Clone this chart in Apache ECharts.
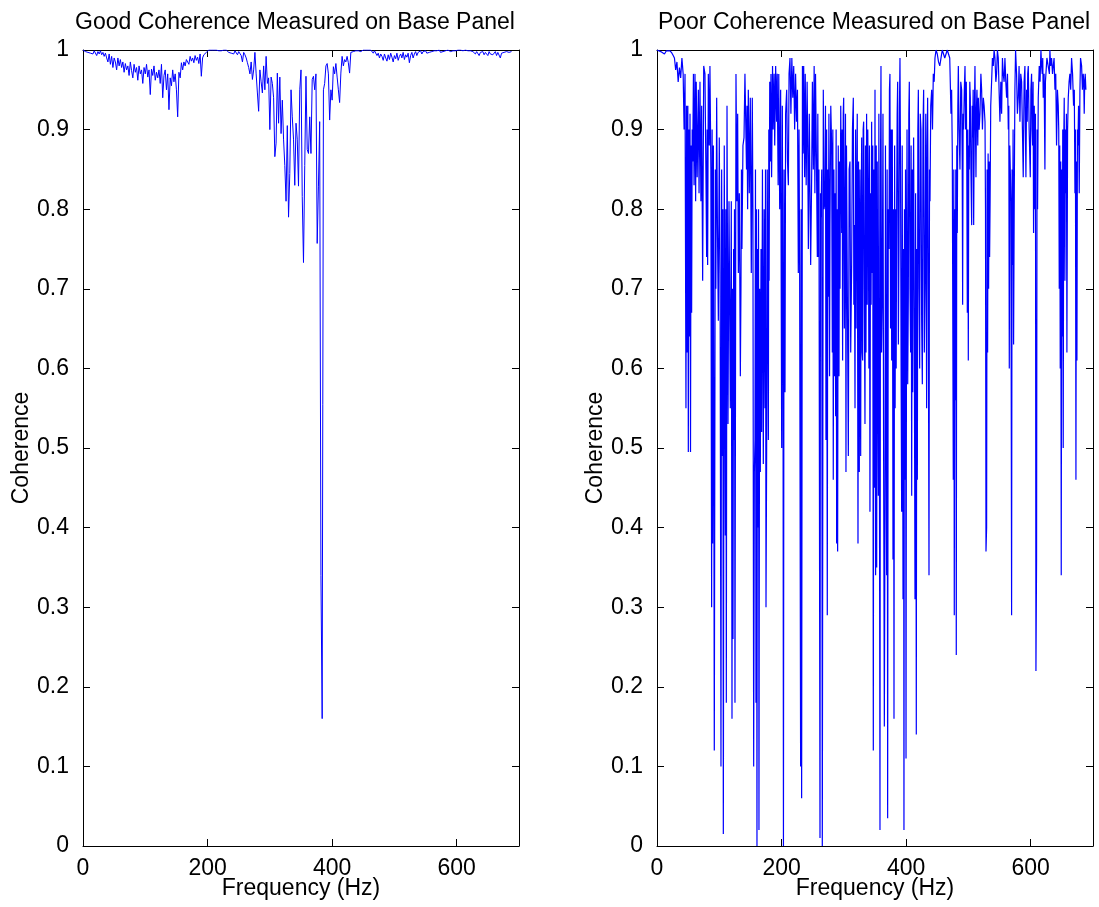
<!DOCTYPE html>
<html><head><meta charset="utf-8">
<script src="https://cdn.jsdelivr.net/npm/echarts@6/dist/echarts.min.js"></script>
<style>html,body{margin:0;padding:0;background:#fff}#chart{width:1099px;height:907px}</style>
</head><body><div id="chart"></div>
<script>
const panelTitles = ['Good Coherence Measured on Base Panel', 'Poor Coherence Measured on Base Panel'];
const xAxisName = 'Frequency (Hz)';
const yAxisName = 'Coherence';
const xTicks = [0, 200, 400, 600];
const yTicks = [0, 0.1, 0.2, 0.3, 0.4, 0.5, 0.6, 0.7, 0.8, 0.9, 1];

// Good coherence: frequency (Hz) and coherence
const goodFreq = [
0,2,4,6,8,10,12,14,16,18,20,22,24,26,28,30,32,34,36,38,
40,42,44,46,48,50,52,54,56,58,60,62,64,66,68,70,72,74,76,78,
80,82,84,86,88,90,92,94,96,98,100,102,104,106,108,110,112,114,116,118,
120,122,124,126,128,130,132,134,136,138,140,142,144,146,148,150,152,154,156,158,
160,162,164,166,168,170,172,174,176,178,180,182,184,186,188,190,192,194,196,198,
200,202,204,206,208,210,212,214,216,218,220,222,224,226,228,230,232,234,236,238,
240,242,244,246,248,250,252,254,256,258,260,262,264,266,268,270,272,274,276,278,
280,282,284,286,288,290,292,294,296,298,300,302,304,306,308,310,312,314,316,318,
320,322,324,326,328,330,332,334,336,338,340,342,344,346,348,350,352,354,356,358,
360,362,364,366,368,370,372,374,376,378,380,382,384,386,388,390,392,394,396,398,
400,402,404,406,408,410,412,414,416,418,420,422,424,426,428,430,432,434,436,438,
440,442,444,446,448,450,452,454,456,458,460,462,464,466,468,470,472,474,476,478,
480,482,484,486,488,490,492,494,496,498,500,502,504,506,508,510,512,514,516,518,
520,522,524,526,528,530,532,534,536,538,540,542,544,546,548,550,552,554,556,558,
560,562,564,566,568,570,572,574,576,578,580,582,584,586,588,590,592,594,596,598,
600,602,604,606,608,610,612,614,616,618,620,622,624,626,628,630,632,634,636,638,
640,642,644,646,648,650,652,654,656,658,660,662,664,666,668,670,672,674,676,678,
680,682,684,686,688];
const goodCoh = [
1.000,0.999,0.998,1.000,0.997,0.999,0.996,0.998,0.995,0.999,
0.997,0.993,0.998,0.995,0.999,0.994,0.997,0.992,0.996,0.990,
0.985,0.995,0.982,0.992,0.978,0.990,0.985,0.975,0.990,0.980,
0.988,0.978,0.985,0.972,0.983,0.975,0.980,0.968,0.985,0.974,
0.965,0.982,0.972,0.978,0.962,0.980,0.970,0.975,0.958,0.978,
0.970,0.982,0.966,0.975,0.944,0.976,0.968,0.980,0.962,0.972,
0.965,0.975,0.958,0.982,0.940,0.968,0.975,0.950,0.970,0.925,
0.965,0.955,0.975,0.960,0.970,0.950,0.916,0.972,0.965,0.984,
0.975,0.985,0.980,0.988,0.990,0.982,0.992,0.986,0.990,0.984,
0.993,0.987,0.991,0.983,0.995,0.967,0.990,0.994,0.992,0.997,
0.998,1.000,0.999,1.000,0.998,1.000,0.999,1.000,1.000,0.999,
1.000,0.999,1.000,1.000,0.998,1.000,0.999,0.997,0.999,0.996,
0.998,0.995,0.999,0.997,0.994,0.998,0.996,0.993,0.985,0.997,
0.994,0.990,0.984,0.978,0.970,0.985,0.963,0.975,0.997,0.970,
0.946,0.923,0.975,0.960,0.946,0.980,0.950,0.992,0.958,0.965,
0.900,0.966,0.958,0.940,0.866,0.883,0.971,0.908,0.966,0.895,
0.937,0.888,0.855,0.810,0.905,0.790,0.845,0.950,0.916,0.888,
0.830,0.908,0.888,0.829,0.950,0.975,0.816,0.733,0.855,0.967,
0.875,0.870,0.916,0.870,0.963,0.967,0.950,0.970,0.757,0.829,
0.910,0.340,0.160,0.950,0.958,0.980,0.983,0.970,0.912,0.950,
0.937,0.979,0.970,0.983,0.966,0.950,0.934,0.971,0.992,0.980,
0.988,0.985,0.992,0.984,0.971,0.997,0.995,0.998,0.997,0.999,
1.000,0.999,1.000,0.998,1.000,1.000,0.999,1.000,0.998,1.000,
0.999,1.000,0.998,0.996,0.999,0.997,0.993,0.996,0.990,0.995,
0.992,0.987,0.995,0.990,0.986,0.994,0.988,0.996,0.991,0.985,
0.993,0.989,0.996,0.987,0.992,0.995,0.990,0.997,0.988,0.994,
0.991,0.996,0.984,0.993,0.997,0.990,0.995,0.998,0.993,0.997,
0.996,0.999,0.995,0.998,0.997,0.999,0.996,0.998,0.997,0.999,
0.998,0.996,0.999,0.997,0.999,0.998,1.000,0.997,0.999,0.998,
1.000,0.999,0.998,1.000,0.999,0.998,1.000,0.999,1.000,0.999,
1.000,1.000,0.999,1.000,1.000,0.999,1.000,1.000,1.000,0.999,
1.000,0.999,1.000,0.998,0.997,0.995,0.998,0.996,0.993,0.997,
0.995,0.998,0.994,0.997,0.996,0.993,0.998,0.995,0.997,0.994,
0.996,0.998,0.993,0.997,0.995,0.990,0.996,0.998,0.997,0.999,
0.998,0.999,0.997,0.999,0.998];

// Poor coherence: [frequency (Hz), coherence] samples
const poorSamples = [
[0,1.0],[3,0.999],[6,0.998],[9,0.999],[12,0.995],[15,0.999],[18,0.997],[21,0.999],[24,0.996],[26,0.993],
[28,0.99],[30,0.975],[32,0.985],[34,0.96],[36,0.978],[38,0.965],[40,0.99],[42,0.97],[43.5,0.9],[45,0.97],
[46.5,0.55],[47.5,0.93],[48.5,0.62],[49.5,0.93],[50.3,0.495],[51.2,0.9],[52.2,0.64],[53,0.92],[53.8,0.495],[54.7,0.88],
[55.6,0.67],[56.5,0.9],[57.3,0.86],[58.5,0.97],[59.5,0.83],[61,0.97],[62,0.81],[63,0.96],[64.5,0.84],[66.4,0.95],
[67.5,0.82],[69,0.96],[70.5,0.81],[71.7,0.93],[73.3,0.71],[75,0.98],[77,0.97],[78.5,0.85],[79.7,0.74],[80.5,0.9],
[81.3,0.73],[82.4,0.97],[84,0.88],[85,0.98],[86.5,0.85],[87.7,0.3],[88.5,0.9],[89.3,0.38],[90.5,0.88],[92,0.12],
[93.6,0.85],[94.5,0.7],[95.8,0.94],[97,0.78],[98.5,0.66],[100,0.89],[101.3,0.72],[102.7,0.1],[103.8,0.85],[104.9,0.49],
[105.7,0.8],[106.5,0.015],[108,0.88],[109.7,0.39],[110.5,0.8],[111.3,0.18],[112.4,0.93],[114,0.53],[115.6,0.81],[117.7,0.55],
[119.3,0.81],[120.4,0.16],[121.2,0.7],[122,0.26],[123,0.75],[123.6,0.51],[124.4,0.8],[125.2,0.18],[126.8,0.97],[128.4,0.81],
[129.5,0.92],[130.6,0.72],[132.2,0.82],[133.8,0.59],[134.8,0.7],[135.6,0.85],[136.4,0.75],[138,0.88],[139.7,0.89],[141.2,0.97],
[142.9,0.97],[143.7,0.85],[144.5,0.93],[145.5,0.8],[146.6,0.95],[148.2,0.82],[149.8,0.94],[151.4,0.72],[153,0.94],[154,0.8],
[155.2,0.1],[156.3,0.47],[157.3,0.51],[158.1,0.85],[158.9,0.18],[159.7,0.8],[160.5,0.0],[161.3,0.75],[162.1,0.4],[163,0.8],
[163.7,0.02],[164.8,0.7],[165.9,0.47],[167,0.75],[168,0.52],[169.3,0.85],[170.7,0.48],[172,0.8],[173.4,0.55],[174.2,0.85],
[175,0.3],[176,0.49],[177,0.85],[178.8,0.51],[179.5,0.9],[180,0.71],[181,0.96],[182,0.86],[183,0.97],[184,0.84],
[185.5,0.98],[186.5,0.9],[188,0.97],[189,0.88],[190.5,0.98],[192,0.91],[193,0.97],[194.5,0.83],[195.5,0.97],[197,0.8],
[198.5,0.95],[200.2,0.5],[201.2,0.93],[202.3,0.63],[203,0.0],[204,0.85],[205.5,0.57],[206.5,0.92],[208.2,0.95],[209.5,0.86],
[210.9,0.83],[212,0.97],[213.5,0.99],[215,0.92],[216.5,0.99],[218,0.94],[219.5,0.98],[221,0.9],[222.5,0.97],[224,0.91],
[225.5,0.95],[226.9,0.72],[228,0.9],[229,0.73],[230.6,0.1],[231.4,0.8],[232.2,0.06],[233.5,0.98],[234.5,0.87],[235.5,0.98],
[237,0.84],[238,0.97],[239.5,0.83],[241,0.96],[242,0.88],[243,0.75],[244.5,0.92],[245.5,0.83],[246.7,0.73],[248.3,0.84],
[249.5,0.96],[251,0.85],[252.3,0.98],[253.5,0.82],[254.5,0.97],[256,0.86],[257.4,0.74],[258.2,0.92],[259,0.74],[260,0.85],
[261.7,0.01],[262.5,0.82],[263.3,0.79],[264.5,0.85],[265.4,0.0],[267,0.95],[268.2,0.8],[269.7,0.81],[270.5,0.93],[271.3,0.51],
[272.3,0.9],[273.4,0.29],[274.2,0.85],[275,0.69],[276,0.92],[277,0.59],[277.7,0.78],[279,0.93],[280.4,0.88],[281.5,0.62],
[282.3,0.9],[283,0.46],[284,0.85],[285.2,0.59],[286,0.82],[286.8,0.54],[287.6,0.9],[288.4,0.38],[289.2,0.8],[290,0.37],
[291,0.88],[292.2,0.59],[293,0.86],[293.8,0.7],[295,0.93],[296.5,0.77],[297.3,0.9],[298,0.61],[299,0.92],[299.7,0.94],
[300.8,0.65],[301.8,0.78],[302.6,0.92],[303.4,0.47],[304.2,0.88],[305,0.88],[306.2,0.62],[307.2,0.49],[308.5,0.85],[309.8,0.86],
[311,0.62],[312.5,0.73],[313.8,0.9],[315.2,0.94],[316,0.68],[316.8,0.78],[317.9,0.55],[318.8,0.9],[319.7,0.65],[320.5,0.81],
[321.5,0.92],[322.7,0.38],[323.6,0.86],[324.8,0.47],[325.8,0.85],[327,0.49],[327.8,0.8],[328.6,0.89],[329.4,0.62],[330.2,0.61],
[331,0.9],[331.8,0.91],[332.8,0.7],[333.9,0.53],[334.7,0.88],[335.5,0.62],[336.5,0.92],[337.5,0.68],[338.4,0.9],[339.3,0.81],
[340.2,0.6],[341.1,0.88],[341.9,0.42],[342.8,0.82],[343.7,0.68],[344.6,0.91],[345.5,0.72],[346.4,0.88],[347.3,0.12],[348.1,0.85],
[348.9,0.45],[350,0.95],[351,0.34],[352,0.88],[352.7,0.35],[353.6,0.86],[354.5,0.6],[355.4,0.44],[356.2,0.92],[357,0.55],
[358,0.02],[358.8,0.85],[359.6,0.98],[360.5,0.62],[361.8,0.7],[362.8,0.92],[363.8,0.5],[365,0.15],[366,0.41],[366.8,0.88],
[367.7,0.55],[368.7,0.34],[369.5,0.85],[370.3,0.035],[371.3,0.8],[372.5,0.75],[373.2,0.95],[374,0.97],[375,0.65],[375.9,0.9],
[376.8,0.61],[377.8,0.9],[378.9,0.36],[379.7,0.8],[380.5,0.16],[381.5,0.88],[382.3,0.55],[383.2,0.8],[384,0.6],[384.8,0.81],
[385.6,0.92],[386.4,0.96],[387.5,0.63],[388.5,0.75],[389.3,0.93],[390.1,0.99],[391,0.85],[391.9,0.6],[392.8,0.42],[393.7,0.88],
[395,0.31],[395.8,0.75],[396.5,0.02],[397.3,0.8],[398.2,0.46],[399,0.85],[399.8,0.11],[400.6,0.7],[401.4,0.9],[402.5,0.58],
[403.5,0.69],[404.3,0.92],[405.1,0.96],[406.2,0.7],[407.2,0.62],[408,0.88],[408.9,0.44],[409.7,0.85],[410.5,0.57],[411.2,0.8],
[412,0.89],[413.1,0.65],[414.2,0.31],[415.2,0.82],[416.3,0.14],[417.1,0.75],[418,0.46],[418.8,0.9],[419.6,0.95],[420.6,0.7],
[421.7,0.6],[422.7,0.92],[423.8,0.9],[424.9,0.66],[426,0.58],[427,0.9],[428.1,0.95],[429.2,0.62],[430.3,0.7],[431.5,0.92],
[432.9,0.55],[433.7,0.88],[434.5,0.94],[435.6,0.7],[436.7,0.34],[437.5,0.85],[438.3,0.81],[439.5,0.93],[441,0.95],[442.3,0.9],
[443.6,0.97],[445,0.96],[446.3,0.99],[448,1.0],[450,0.995],[452,0.985],[454,0.98],[456,0.99],[458,1.0],[460,0.998],
[462,0.99],[464,0.995],[466,1.0],[468,0.999],[470,0.99],[472,0.92],[473,0.95],[474.1,0.87],[475.7,0.46],[476.5,0.85],
[477.3,0.29],[478.1,0.8],[478.9,0.56],[479.7,0.85],[480.5,0.24],[481.3,0.88],[482.1,0.77],[483,0.93],[483.8,0.98],[485,0.9],
[486.4,0.85],[487.7,0.96],[489.1,0.95],[490,0.86],[490.7,0.68],[491.5,0.92],[492.3,0.9],[493.4,0.95],[494.5,0.98],[495.5,0.9],
[496.6,0.96],[497.4,0.85],[498.2,0.67],[499,0.9],[499.8,0.61],[500.6,0.88],[501.4,0.85],[502.2,0.96],[503,0.94],[504,0.85],
[505.2,0.78],[506,0.93],[506.8,0.89],[507.6,0.95],[508.4,0.78],[509.5,0.92],[510.5,0.98],[511.3,0.9],[512.1,0.84],[513,0.93],
[513.7,0.95],[515,0.88],[515.9,0.94],[517.2,0.9],[518.5,0.92],[520,0.97],[521.2,0.95],[522.5,0.9],[523.9,0.94],[525.2,0.93],
[526.6,0.91],[527.4,0.8],[528.2,0.37],[529.2,0.4],[530,0.85],[530.8,0.62],[531.6,0.87],[532.4,0.7],[533.2,0.86],[534,0.74],
[534.8,0.81],[535.8,0.93],[537.2,0.96],[538.5,0.99],[539.9,0.98],[541.2,1.0],[542.6,0.99],[544,0.96],[545.2,0.97],[546.5,1.0],
[547.9,0.99],[549.2,0.95],[550.6,0.91],[552,0.96],[553.3,0.92],[554.6,0.99],[555.9,0.97],[557.3,0.96],[558.6,0.99],[560,0.96],
[561.3,0.94],[562.7,0.97],[564,0.9],[564.8,0.93],[565.6,0.6],[566.4,0.88],[567.2,0.85],[568.2,0.81],[569.3,0.29],[570.1,0.85],
[570.9,0.73],[571.7,0.9],[572.5,0.63],[573.6,0.82],[574.6,0.95],[575.7,1.0],[577.3,0.97],[578.6,0.92],[580,0.94],[581.3,0.98],
[582.7,0.91],[584,0.97],[585.4,0.96],[586.7,0.9],[588,0.84],[589.4,0.96],[590.7,0.98],[591.5,0.9],[592.3,0.84],[593.4,0.95],
[594.4,0.91],[595.2,0.97],[596.1,0.98],[597.5,0.9],[599.3,0.84],[600.3,0.95],[601.4,0.97],[602.2,0.9],[603,0.88],[603.8,0.96],
[604.6,0.77],[605.7,0.93],[606.8,0.8],[607.6,0.92],[608.4,0.22],[609.4,0.36],[610.2,0.9],[611,0.8],[612.1,0.94],[613.7,0.98],
[615,0.96],[616.4,1.0],[617.5,0.98],[618.5,0.97],[619.3,0.99],[620.1,0.94],[621.5,0.97],[622.8,0.85],[623.6,0.96],[624.4,0.97],
[626,0.99],[628.2,0.99],[630,0.97],[630.8,1.0],[632,0.98],[633.5,0.99],[635,0.97],[636.2,0.98],[637.5,0.99],[638.9,0.95],
[640.2,0.97],[641.5,0.88],[642.9,0.95],[644.2,0.93],[645,0.9],[645.8,0.7],[646.6,0.88],[647.4,0.6],[648.2,0.86],[649,0.34],
[649.8,0.85],[650.6,0.64],[651.4,0.9],[652.2,0.5],[653,0.88],[653.8,0.94],[654.9,0.71],[655.7,0.9],[656.5,0.82],[657.3,0.92],
[658.1,0.62],[659.2,0.9],[660.3,0.94],[661.6,0.96],[662.9,0.97],[664.2,0.95],[665.6,0.99],[667.2,0.97],[668.8,0.93],[670,0.95],
[671,0.82],[671.8,0.9],[672.6,0.46],[673.4,0.86],[674.2,0.61],[675,0.9],[675.8,0.88],[676.8,0.93],[677.9,0.82],[679,0.95],
[680,0.99],[681.7,0.98],[683,0.95],[684.3,0.97],[685.1,0.96],[685.9,0.92],[686.7,0.96],[687.5,0.97],[688.6,0.95]
];

const FONT = '"Liberation Sans", Arial, Helvetica, sans-serif';
const BLACK = '#000';
const FS = 23;
const gridBoxes = [
  { left: 83, top: 50, width: 436, height: 796 },
  { left: 657, top: 50, width: 436, height: 796 }
];
const titleShift = [-6, -1];

function xAxisFor(gi, pos, withLabels) {
  return {
    type: 'value', gridIndex: gi, position: pos,
    min: xTicks[0], max: 700, interval: xTicks[1] - xTicks[0],
    axisLine: { show: true, onZero: false, lineStyle: { color: BLACK, width: 1 } },
    axisTick: { show: true, inside: true, length: 7, lineStyle: { color: BLACK, width: 1 } },
    axisLabel: { show: withLabels, showMaxLabel: false, margin: 11, color: BLACK, fontSize: FS, fontFamily: FONT },
    splitLine: { show: false },
    name: withLabels ? xAxisName : '',
    nameLocation: 'middle', nameGap: 31, nameMoveOverlap: false,
    nameTextStyle: { color: BLACK, fontSize: FS, fontFamily: FONT }
  };
}
function yAxisFor(gi, pos, withLabels) {
  return {
    type: 'value', gridIndex: gi, position: pos,
    min: yTicks[0], max: yTicks[yTicks.length - 1], interval: yTicks[1] - yTicks[0],
    axisLine: { show: true, onZero: false, lineStyle: { color: BLACK, width: 1 } },
    axisTick: { show: true, inside: true, length: 7, lineStyle: { color: BLACK, width: 1 } },
    axisLabel: { show: withLabels, margin: 14, color: BLACK, fontSize: FS, fontFamily: FONT,
      formatter: v => String(Math.round(v * 10) / 10) },
    splitLine: { show: false },
    name: withLabels ? yAxisName : '',
    nameLocation: 'middle', nameGap: 49, nameRotate: 90,
    nameTextStyle: { color: BLACK, fontSize: FS, fontFamily: FONT }
  };
}

const chart = echarts.init(document.getElementById('chart'), null, { renderer: 'canvas' });
chart.setOption({
  animation: false,
  backgroundColor: '#fff',
  title: panelTitles.map((t, i) => ({
    text: t, left: gridBoxes[i].left + gridBoxes[i].width / 2 + titleShift[i], top: 11, textAlign: 'center', padding: 0,
    textStyle: { color: BLACK, fontSize: FS, fontWeight: 'normal', fontFamily: FONT }
  })),
  grid: gridBoxes.map(g => Object.assign({ containLabel: false, outerBoundsMode: 'none' }, g)),
  xAxis: [xAxisFor(0, 'bottom', true), xAxisFor(1, 'bottom', true), xAxisFor(0, 'top', false), xAxisFor(1, 'top', false)],
  yAxis: [yAxisFor(0, 'left', true), yAxisFor(1, 'left', true), yAxisFor(0, 'right', false), yAxisFor(1, 'right', false)],
  series: [
    { type: 'line', xAxisIndex: 0, yAxisIndex: 0, showSymbol: false, symbol: 'none', silent: true,
      lineStyle: { color: '#0000ff', width: 1 }, data: goodFreq.map((f, i) => [f, goodCoh[i]]) },
    { type: 'line', xAxisIndex: 1, yAxisIndex: 1, showSymbol: false, symbol: 'none', silent: true,
      lineStyle: { color: '#0000ff', width: 1.2 }, data: poorSamples }
  ]
});
</script>
</body></html>
